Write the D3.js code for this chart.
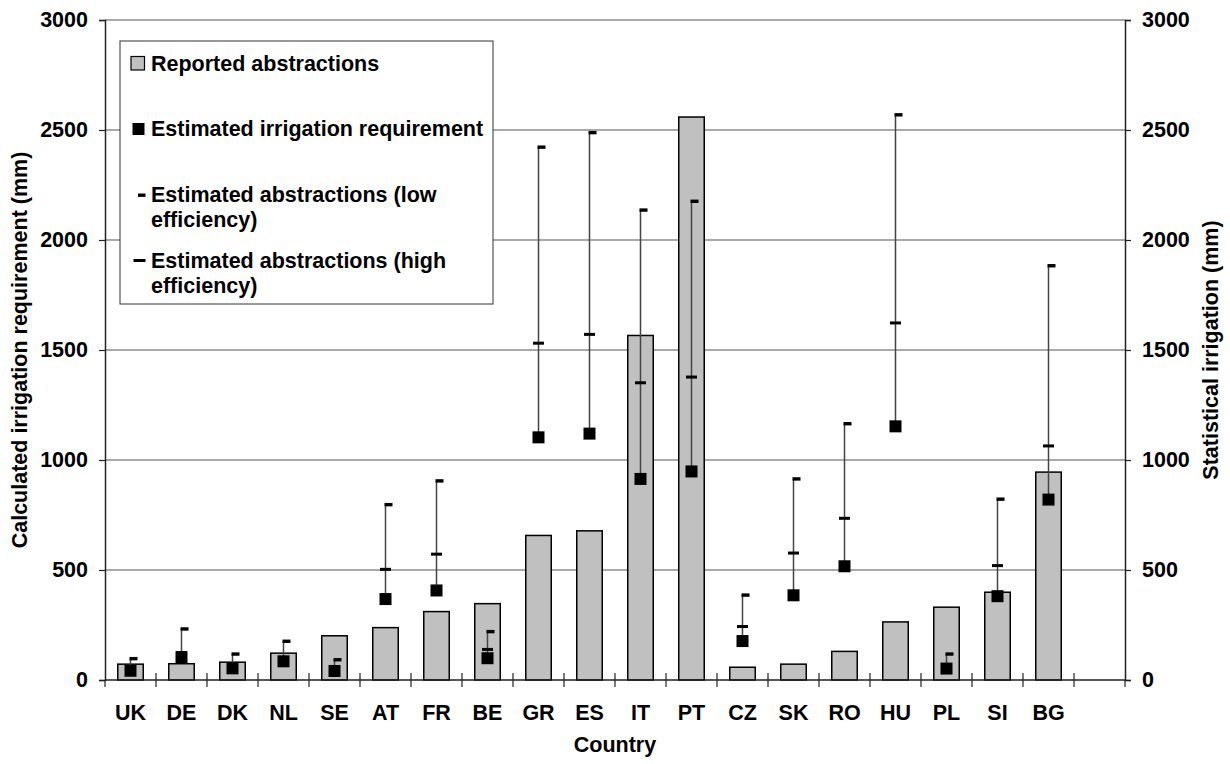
<!DOCTYPE html>
<html>
<head>
<meta charset="utf-8">
<script src="https://cdn.jsdelivr.net/npm/d3@7"></script>
<style>
  html, body { margin: 0; padding: 0; background: #fff; }
  svg text { font-family: "Liberation Sans", Arial, sans-serif; font-weight: bold; fill: #000; }
</style>
</head>
<body>
<svg id="chart" width="1230" height="764"></svg>
<script>
// Countries along the x axis
const countries = ["UK", "DE", "DK", "NL", "SE", "AT", "FR", "BE", "GR", "ES",
                   "IT", "PT", "CZ", "SK", "RO", "HU", "PL", "SI", "BG"];
// Statistical irrigation: reported abstractions (mm)
const reported = [72, 74, 81, 122, 201, 238, 311, 347, 657, 678,
                  1566, 2559, 58, 72, 130, 264, 331, 399, 945];
// Calculated irrigation requirement (mm)
const requirement = [42, 103, 53, 85, 41, 368, 407, 99, 1103, 1120,
                     914, 948, 177, 385, 517, 1153, 52, 381, 820];
// Estimated abstractions, low irrigation efficiency (mm)
const lowEfficiency = [97, 232, 118, 176, 92, 797, 905, 220, 2422, 2488,
                       2136, 2176, 386, 914, 1165, 2569, 118, 822, 1883];
// Estimated abstractions, high irrigation efficiency (mm)
const highEfficiency = [58, 125, 70, 102, 55, 503, 572, 139, 1531, 1571,
                        1351, 1377, 243, 577, 735, 1623, 70, 520, 1064];
// Axis ticks (both y axes share the same scale)
const yTicks = [0, 500, 1000, 1500, 2000, 2500, 3000];
const legendLabels = [
  ["Reported abstractions"],
  ["Estimated irrigation requirement"],
  ["Estimated abstractions (low", "efficiency)"],
  ["Estimated abstractions (high", "efficiency)"]
];

const svg = d3.select("#chart");
const plot = { left: 105, right: 1125, top: 20, bottom: 680 };
const FONT = 21.5;

// one empty slot after the last country
const slots = countries.concat([""]);
const x = d3.scaleBand().domain(slots).range([plot.left, plot.right]).paddingInner(0).paddingOuter(0);
const y = d3.scaleLinear().domain([0, 3000]).range([plot.bottom, plot.top]);
const cx = c => x(c) + x.bandwidth() / 2;

// horizontal gridlines
svg.append("g").selectAll("line")
  .data(yTicks.filter(v => v > 0))
  .join("line")
  .attr("x1", plot.left).attr("x2", plot.right)
  .attr("y1", d => y(d)).attr("y2", d => y(d))
  .attr("stroke", "#555").attr("stroke-width", 1.2);

// reported abstraction bars
const barW = x.bandwidth() * 0.5;
svg.append("g").selectAll("rect")
  .data(countries)
  .join("rect")
  .attr("x", c => cx(c) - barW / 2)
  .attr("width", barW)
  .attr("y", (c, i) => y(reported[i]))
  .attr("height", (c, i) => y(0) - y(reported[i]))
  .attr("fill", "#c0c0c0")
  .attr("stroke", "#000")
  .attr("stroke-width", 1.5);

// range line from requirement up to the low-efficiency estimate
svg.append("g").selectAll("line")
  .data(countries)
  .join("line")
  .attr("x1", cx).attr("x2", cx)
  .attr("y1", (c, i) => y(requirement[i]))
  .attr("y2", (c, i) => y(lowEfficiency[i]))
  .attr("stroke", "#444").attr("stroke-width", 1.5);

// high-efficiency marker: centred dash
svg.append("g").selectAll("rect")
  .data(countries)
  .join("rect")
  .attr("x", c => cx(c) - 5.5)
  .attr("width", 11)
  .attr("y", (c, i) => y(highEfficiency[i]) - 1.5)
  .attr("height", 3)
  .attr("fill", "#000");

// low-efficiency marker: short dash to the right of the line
svg.append("g").selectAll("rect")
  .data(countries)
  .join("rect")
  .attr("x", c => cx(c) - 1)
  .attr("width", 8)
  .attr("y", (c, i) => y(lowEfficiency[i]) - 1.7)
  .attr("height", 3.4)
  .attr("fill", "#000");

// irrigation requirement squares
const sq = 12;
svg.append("g").selectAll("rect")
  .data(countries)
  .join("rect")
  .attr("x", c => cx(c) - sq / 2)
  .attr("y", (c, i) => y(requirement[i]) - sq / 2)
  .attr("width", sq).attr("height", sq)
  .attr("fill", "#000");

// left y axis
const yLeft = d3.axisLeft(y).tickValues(yTicks).tickSize(6).tickPadding(11).tickFormat(d3.format("d"));
const gL = svg.append("g").attr("transform", `translate(${plot.left},0)`).call(yLeft);
// right y axis
const yRight = d3.axisRight(y).tickValues(yTicks).tickSize(6).tickPadding(11).tickFormat(d3.format("d"));
const gR = svg.append("g").attr("transform", `translate(${plot.right},0)`).call(yRight);
[gL, gR].forEach(g => {
  g.attr("font-size", null).attr("font-family", null);
  g.select(".domain").attr("stroke", "#222").attr("stroke-width", 1.5);
  g.selectAll(".tick line").attr("stroke", "#222").attr("stroke-width", 1.2);
  g.selectAll(".tick text").attr("font-size", FONT).attr("fill", "#000");
});

// x axis baseline
svg.append("line")
  .attr("x1", plot.left).attr("x2", plot.right)
  .attr("y1", y(0)).attr("y2", y(0))
  .attr("stroke", "#222").attr("stroke-width", 1.5);

// category separators (band edges)
const edges = slots.map(s => x(s)).concat([plot.right]);
svg.append("g").selectAll("line")
  .data(edges)
  .join("line")
  .attr("x1", d => d).attr("x2", d => d)
  .attr("y1", (d, i) => (i === 0 || i === edges.length - 1) ? y(0) : y(0) - 7)
  .attr("y2", y(0) + 7)
  .attr("stroke", "#222").attr("stroke-width", 1.2);

// category labels
svg.append("g").selectAll("text")
  .data(countries)
  .join("text")
  .attr("x", cx)
  .attr("y", 720)
  .attr("text-anchor", "middle")
  .attr("font-size", FONT)
  .text(d => d);

// axis titles
svg.append("text")
  .attr("x", (plot.left + plot.right) / 2).attr("y", 752)
  .attr("text-anchor", "middle").attr("font-size", FONT)
  .text("Country");
svg.append("text")
  .attr("transform", `translate(27,${(plot.top + plot.bottom) / 2}) rotate(-90)`)
  .attr("text-anchor", "middle").attr("font-size", FONT)
  .text("Calculated irrigation requirement (mm)");
svg.append("text")
  .attr("transform", `translate(1218,${(plot.top + plot.bottom) / 2}) rotate(-90)`)
  .attr("text-anchor", "middle").attr("font-size", FONT)
  .text("Statistical irrigation (mm)");

// legend
const lg = svg.append("g");
lg.append("rect")
  .attr("x", 120).attr("y", 41).attr("width", 373).attr("height", 263)
  .attr("fill", "#fff").attr("stroke", "#333").attr("stroke-width", 1);
const textX = 151;
const baselines = [[70.5], [136], [201.5, 226.5], [267.5, 293]];
legendLabels.forEach((lines, i) => {
  lines.forEach((t, j) => {
    lg.append("text").attr("x", textX).attr("y", baselines[i][j])
      .attr("font-size", FONT).text(t);
  });
});
// legend symbols
lg.append("rect").attr("x", 131).attr("y", 56.5).attr("width", 13.5).attr("height", 13.5)
  .attr("fill", "#c0c0c0").attr("stroke", "#000").attr("stroke-width", 1.2);
lg.append("rect").attr("x", 132.5).attr("y", 123).attr("width", 12).attr("height", 12)
  .attr("fill", "#000");
lg.append("rect").attr("x", 138).attr("y", 193.5).attr("width", 7.5).attr("height", 3.4)
  .attr("fill", "#000");
lg.append("rect").attr("x", 133.5).attr("y", 259).attr("width", 12).attr("height", 3)
  .attr("fill", "#000");
</script>
</body>
</html>
